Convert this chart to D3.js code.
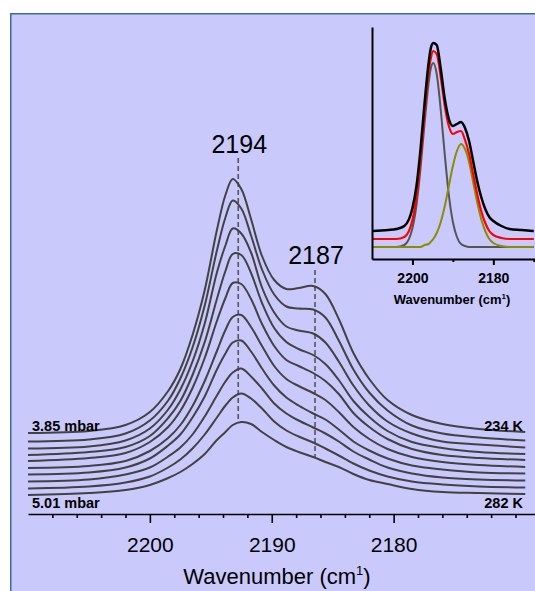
<!DOCTYPE html>
<html>
<head>
<meta charset="utf-8">
<script src="https://cdn.jsdelivr.net/npm/d3@7/dist/d3.min.js"></script>
<style>
  html, body { margin: 0; padding: 0; background: #ffffff; }
  svg { display: block; }
  text { font-family: "Liberation Sans", Arial, sans-serif; fill: #000; }
</style>
</head>
<body>
<svg id="chart" width="535" height="591"></svg>
<script>
// ---------------- data ----------------
const mainWavenumbers = [2210, 2205, 2202, 2200, 2198.5, 2197.5, 2196.5, 2195.5, 2194.5, 2193.8, 2193.2, 2192.5, 2191.7, 2190.8, 2189.8, 2188.8, 2187.8, 2186.6, 2185.6, 2184.5, 2183.3, 2182, 2180.5, 2178.5, 2176, 2173, 2169.2];

// absorbance (a.u.) of the 10 spectra, top (234 K / 3.85 mbar) to bottom (282 K / 5.01 mbar)
const spec1  = [0, 2, 8, 21, 42, 64, 98, 143, 203, 238, 254, 244, 214, 177, 153, 144, 145, 147, 139, 114, 80, 54, 33, 18, 9, 4, 1];
const spec2  = [0, 2, 8, 21, 41, 63, 94, 136, 191, 224, 241, 233, 206, 172, 147, 135, 133, 132, 124, 101, 72, 49, 31, 16, 8, 4, 1];
const spec3  = [0, 2, 8, 20, 39, 59, 87, 125, 176, 203, 220, 215, 196, 161, 136, 122, 118, 115, 106, 87, 63, 43, 27, 15, 7, 4, 1];
const spec4  = [0, 3, 8, 19, 37, 54, 80, 113, 156, 184, 201, 200, 182, 152, 127, 113, 106, 100, 91, 75, 54, 38, 24, 13, 7, 3, 1];
const spec5  = [0, 3, 8, 19, 34, 50, 73, 103, 140, 163, 178, 177, 162, 137, 115, 101, 95, 88, 80, 67, 48, 34, 22, 12, 6, 3, 1];
const spec6  = [0, 2, 7, 17, 30, 43, 62, 87, 117, 138, 151, 153, 141, 122, 102, 89, 82, 75, 68, 56, 41, 29, 19, 11, 6, 3, 1];
const spec7  = [0, 2, 7, 16, 29, 40, 57, 78, 105, 121, 132, 134, 123, 106, 89, 77, 69, 61, 55, 45, 33, 24, 16, 9, 5, 2, 1];
const spec8  = [0, 2, 7, 14, 25, 34, 47, 65, 86, 100, 109, 113, 105, 93, 78, 68, 61, 54, 48, 40, 30, 22, 14, 8, 4, 2, 1];
const spec9  = [0, 2, 6, 12, 21, 29, 40, 54, 71, 83, 91, 95, 90, 80, 67, 58, 52, 46, 40, 33, 25, 18, 12, 7, 4, 2, 1];
const spec10 = [0, 2, 5, 10, 17, 23, 31, 41, 55, 63, 70, 73, 71, 63, 55, 48, 43, 38, 33, 28, 21, 15, 11, 6, 3, 2, 1];
const spectra = [spec1, spec2, spec3, spec4, spec5, spec6, spec7, spec8, spec9, spec10];
const stackOffsets = [62, 53.5, 46.5, 40, 34, 27, 20.5, 13.5, 6.5, 0];

const pressureLabels = ["3.85 mbar", "5.01 mbar"];
const temperatureLabels = ["234 K", "282 K"];

const peakWavenumbers = [2192.75, 2186.45];
const peakLabels = ["2194", "2187"];
const peakLineTop = [337, 225];
const peakLineBottom = [75, 38];
const peakLabelLevel = [342, 231];

const mainMajorTicks = [2200, 2190, 2180];
const mainMinorTicks = [2208, 2206, 2204, 2202, 2198, 2196, 2194, 2192, 2188, 2186, 2184, 2182, 2178, 2176, 2174, 2172, 2170];

// inset: fit of the top spectrum
const insetWavenumbers = [2210, 2206, 2204, 2202, 2200, 2199, 2198, 2197, 2196, 2195.5, 2194.85, 2194, 2193, 2192, 2191, 2190, 2189, 2188, 2187, 2186, 2185, 2184, 2183, 2182, 2181, 2180, 2178, 2176, 2173, 2170];
const insetMeasured = [0, 1, 2, 5, 23, 45, 82, 128, 168, 182, 188, 186, 162, 132, 112, 105, 107, 109, 103, 90, 70, 50, 34, 22, 14, 10, 5, 2, 1, 0];
const insetFitSum   = [0, 0, 0, 2, 19, 42, 79, 126, 167, 180, 188, 185, 162, 133, 113, 105, 107, 108, 99, 85, 65, 45, 28, 16, 8, 4, 1, 0, 0, 0];
const insetBand2194 = [0, 0, 0, 2, 19, 42, 79, 124, 164, 178, 184, 173, 137, 92, 52, 25, 10, 3, 1, 0, 0, 0, 0, 0, 0, 0, 0, 0, 0, 0];
const insetBand2187 = [0, 0, 0, 0, 0, 0, 0, 2, 3, 5, 8, 14, 25, 41, 61, 81, 96, 103, 98, 85, 65, 45, 28, 16, 8, 4, 1, 0, 0, 0];
const insetOffsets = { measured: 16, fit: 8, band: 0 };
const insetMajorTicks = [2200, 2180];
const insetMinorTicks = [2190, 2170];

// ---------------- drawing ----------------
const svg = d3.select("#chart");

// panel
svg.append("rect")
  .attr("x", 10.75).attr("y", 13.75)
  .attr("width", 540).attr("height", 600)
  .attr("fill", "#c9c9fc")
  .attr("stroke", "#3a6d9a")
  .attr("stroke-width", 1.5);

// main scales
const x = d3.scaleLinear().domain([2210, 2168.4]).range([28, 535]);
const y = d3.scaleLinear().domain([0, 100]).range([495, 395]);

const line = d3.line()
  .x((d, i) => x(mainWavenumbers[i]))
  .y(d => y(d))
  .curve(d3.curveCatmullRom.alpha(0.5));

// dashed peak markers
svg.append("g").selectAll("line")
  .data(peakWavenumbers)
  .join("line")
  .attr("x1", d => x(d)).attr("x2", d => x(d))
  .attr("y1", (d, i) => y(peakLineTop[i]))
  .attr("y2", (d, i) => y(peakLineBottom[i]))
  .attr("stroke", "#555")
  .attr("stroke-width", 1.6)
  .attr("stroke-dasharray", "5,3");

// spectra
svg.append("g").selectAll("path")
  .data(spectra)
  .join("path")
  .attr("d", (s, k) => line(s.map(v => v + stackOffsets[k])))
  .attr("fill", "none")
  .attr("stroke", "#424242")
  .attr("stroke-width", 2);

// peak labels
svg.append("g").selectAll("text")
  .data(peakLabels)
  .join("text")
  .attr("x", (d, i) => x(peakWavenumbers[i]) + 1)
  .attr("y", (d, i) => y(peakLabelLevel[i]))
  .attr("text-anchor", "middle")
  .attr("font-size", 25)
  .text(d => d);

// side labels
const sideFont = 14.5;
svg.append("text").attr("x", 32).attr("y", y(stackOffsets[0] + 2))
  .attr("font-size", sideFont).attr("font-weight", "bold").text(pressureLabels[0]);
svg.append("text").attr("x", 32).attr("y", y(-13))
  .attr("font-size", sideFont).attr("font-weight", "bold").text(pressureLabels[1]);
svg.append("text").attr("x", 523).attr("y", y(stackOffsets[0] + 2)).attr("text-anchor", "end")
  .attr("font-size", sideFont).attr("font-weight", "bold").text(temperatureLabels[0]);
svg.append("text").attr("x", 523).attr("y", y(-13)).attr("text-anchor", "end")
  .attr("font-size", sideFont).attr("font-weight", "bold").text(temperatureLabels[1]);

// main x axis
const axisY = y(-19);
const gMinor = svg.append("g").attr("transform", `translate(0,${axisY})`)
  .call(d3.axisBottom(x).tickValues(mainMinorTicks).tickSize(4).tickSizeOuter(0).tickFormat(""));
const gMajor = svg.append("g").attr("transform", `translate(0,${axisY})`)
  .call(d3.axisBottom(x).tickValues(mainMajorTicks).tickSize(9).tickSizeOuter(0).tickPadding(14).tickFormat(d3.format("d")));
[gMinor, gMajor].forEach(g => {
  g.selectAll("path, line").attr("stroke", "#000").attr("stroke-width", 1.6);
});
gMinor.select("path").remove();
gMajor.selectAll("text").attr("font-size", 21).attr("font-family", "'Liberation Sans', Arial, sans-serif").attr("fill", "#000");

const title = svg.append("text").attr("x", 277).attr("y", 584)
  .attr("text-anchor", "middle").attr("font-size", 22);
title.append("tspan").text("Wavenumber (cm");
title.append("tspan").attr("font-size", 13).attr("dy", -9).text("1");
title.append("tspan").attr("dy", 9).text(")");

// ---------------- inset ----------------
const xi = d3.scaleLinear().domain([2210, 2169.7]).range([372, 535]);
const yi = d3.scaleLinear().domain([-12, 220]).range([259, 27]);

const insetLine = off => d3.line()
  .x((d, i) => xi(insetWavenumbers[i]))
  .y(d => yi(d + off))
  .curve(d3.curveMonotoneX);

const insetSeries = [
  { data: insetBand2194, off: insetOffsets.band, color: "#555555", w: 2 },
  { data: insetBand2187, off: insetOffsets.band, color: "#8c8c00", w: 2 },
  { data: insetFitSum, off: insetOffsets.fit, color: "#ff0000", w: 2.2 },
  { data: insetMeasured, off: insetOffsets.measured, color: "#000000", w: 2.5 }
];
svg.append("g").selectAll("path")
  .data(insetSeries)
  .join("path")
  .attr("d", s => insetLine(s.off)(s.data))
  .attr("fill", "none")
  .attr("stroke", s => s.color)
  .attr("stroke-width", s => s.w)
  .attr("stroke-linejoin", "round");

// inset axes
const giMinor = svg.append("g").attr("transform", `translate(0,${yi(-12)})`)
  .call(d3.axisBottom(xi).tickValues(insetMinorTicks).tickSize(3).tickSizeOuter(0).tickFormat(""));
const giMajor = svg.append("g").attr("transform", `translate(0,${yi(-12)})`)
  .call(d3.axisBottom(xi).tickValues(insetMajorTicks).tickSize(6).tickSizeOuter(0).tickPadding(8).tickFormat(d3.format("d")));
[giMinor, giMajor].forEach(g => g.selectAll("path, line").attr("stroke", "#000").attr("stroke-width", 2));
giMinor.select("path").remove();
giMajor.selectAll("text").attr("font-size", 14).attr("font-weight", "bold")
  .attr("font-family", "'Liberation Sans', Arial, sans-serif").attr("fill", "#000");
svg.append("g").attr("transform", `translate(${xi(2210)},0)`)
  .call(d3.axisLeft(yi).tickValues([]).tickSizeOuter(0))
  .select("path").attr("stroke", "#000").attr("stroke-width", 2);

const ititle = svg.append("text").attr("x", 452).attr("y", 304)
  .attr("text-anchor", "middle").attr("font-size", 13).attr("font-weight", "bold");
ititle.append("tspan").text("Wavenumber (cm");
ititle.append("tspan").attr("font-size", 8).attr("dy", -5).text("1");
ititle.append("tspan").attr("dy", 5).text(")");
</script>
</body>
</html>
